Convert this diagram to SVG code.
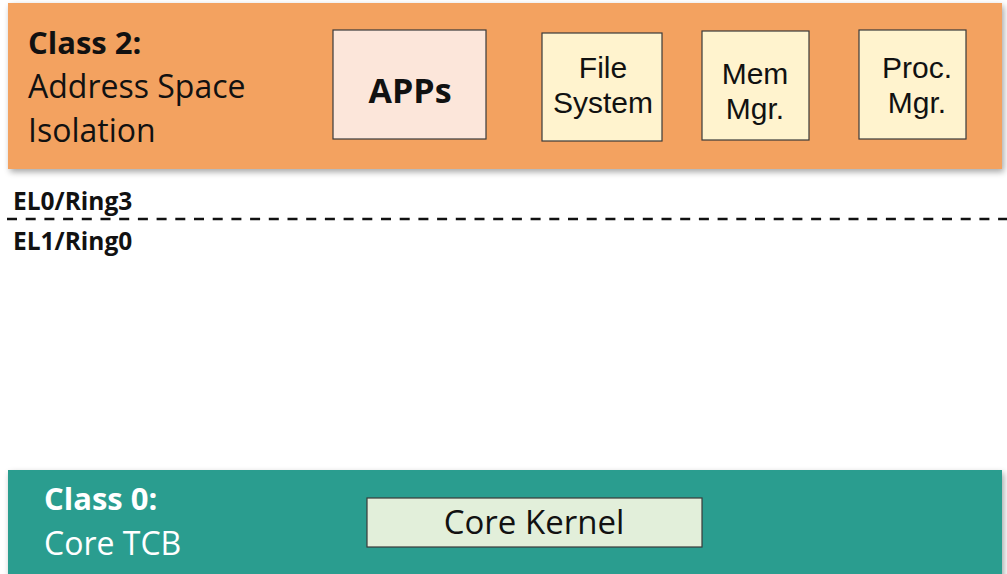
<svg xmlns="http://www.w3.org/2000/svg" width="1007" height="574" viewBox="0 0 1007 574">
  <defs>
    <filter id="shadow" x="-5%" y="-10%" width="110%" height="125%">
      <feGaussianBlur in="SourceAlpha" stdDeviation="3"/>
      <feOffset dx="2" dy="3"/>
      <feComponentTransfer><feFuncA type="linear" slope="0.35"/></feComponentTransfer>
      <feMerge><feMergeNode/><feMergeNode in="SourceGraphic"/></feMerge>
    </filter>
    <style>
      .txt { font-family: "Open Sans", "Noto Sans", sans-serif; }
      .box { stroke: #3a3a3a; stroke-width: 1.2; }
      .svc { fill: #FFF3CE; }
      .lbl { font-size: 29.5px; fill: #111; text-anchor: middle; }
      .two { font-family: "Liberation Sans", Arial, sans-serif; font-size: 30px; }
      .big { font-size: 34px; }
      .ring { font-size: 24.5px; font-weight: bold; fill: #111; }
    </style>
  </defs>
  <rect width="1007" height="574" fill="#ffffff"/>

  <!-- User space band -->
  <g id="class2">
    <rect x="8" y="3" width="994" height="166" fill="#F3A261" filter="url(#shadow)"/>
    <text class="txt" x="28" y="54" font-size="31" font-weight="bold" fill="#111">Class 2:</text>
    <text class="txt" x="28" y="98" font-size="32" fill="#111">Address Space</text>
    <text class="txt" x="28" y="142" font-size="32" fill="#111">Isolation</text>
  </g>
  <g id="apps">
    <rect class="box" x="333" y="30" width="153" height="109" fill="#FCE6DA"/>
    <text class="txt lbl big" x="410" y="103" font-weight="bold">APPs</text>
  </g>
  <g id="filesystem">
    <rect class="box svc" x="542" y="33" width="120" height="108"/>
    <text class="lbl two" x="603" y="78">File</text>
    <text class="lbl two" x="603" y="113">System</text>
  </g>
  <g id="memmgr">
    <rect class="box svc" x="702" y="31" width="107" height="109"/>
    <text class="lbl two" x="755" y="84">Mem</text>
    <text class="lbl two" x="755" y="119">Mgr.</text>
  </g>
  <g id="procmgr">
    <rect class="box svc" x="859" y="30" width="107" height="109"/>
    <text class="lbl two" x="917" y="78">Proc.</text>
    <text class="lbl two" x="917" y="113">Mgr.</text>
  </g>

  <!-- Privilege boundary -->
  <g id="connectors">
    <line x1="7" y1="219" x2="1007" y2="219" stroke="#111" stroke-width="2.5" stroke-dasharray="10 8.7"/>
  </g>
  <g id="ring-labels">
    <text class="txt ring" x="13" y="210">EL0/Ring3</text>
    <text class="txt ring" x="13" y="250">EL1/Ring0</text>
  </g>

  <!-- Kernel band -->
  <g id="class0">
    <rect x="8" y="470" width="994" height="110" fill="#2A9D8F" filter="url(#shadow)"/>
    <text class="txt" x="44" y="510" font-size="31" font-weight="bold" fill="#ffffff">Class 0:</text>
    <text class="txt" x="44" y="555" font-size="32" fill="#ffffff">Core TCB</text>
  </g>
  <g id="corekernel">
    <rect class="box" x="367" y="498" width="335" height="49" fill="#E2EFDA"/>
    <text class="txt lbl" x="534" y="534" style="font-size:33px">Core Kernel</text>
  </g>
</svg>
